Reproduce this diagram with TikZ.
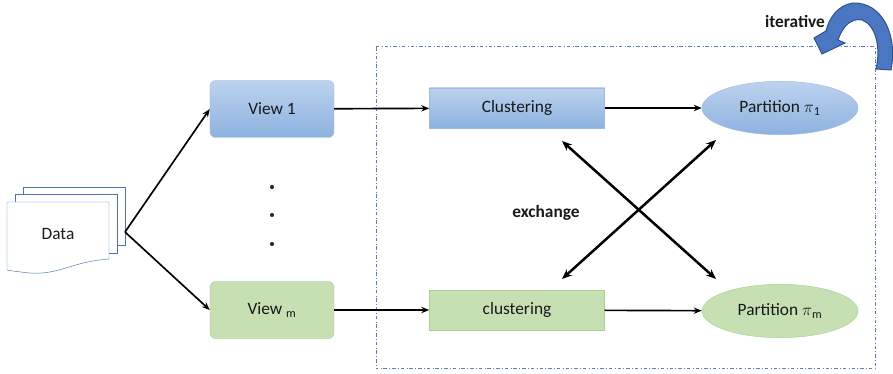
\documentclass[tikz,border=0pt]{standalone}
\usepackage{fontspec}
\setmainfont{Carlito}
\usetikzlibrary{shapes.geometric,arrows.meta}
\definecolor{bluetop}{HTML}{BCD2EE}
\definecolor{bluebot}{HTML}{8DB2E0}
\definecolor{blueline}{HTML}{9DB9E3}
\definecolor{greenfill}{HTML}{C6E0B4}
\definecolor{greenline}{HTML}{A9D18E}
\definecolor{docline}{HTML}{4A74C0}
\definecolor{frameline}{HTML}{5A7DB5}
\definecolor{loopfill}{HTML}{4A76C2}
\definecolor{loopline}{HTML}{2F528F}
\tikzset{
	txt/.style={font=\fontsize{14.8}{17}\selectfont, text=black!90},
	viewbox/.style={txt, rounded corners=5pt, minimum width=3.72cm, minimum height=1.71cm, inner sep=0pt},
	clusterbox/.style={txt, minimum width=5.25cm, minimum height=1.2cm, inner sep=0pt},
	partition/.style={txt, ellipse, minimum width=4.68cm, minimum height=1.6cm, inner sep=0pt},
	bluefill/.style={draw=blueline, top color=bluetop, bottom color=bluebot},
	greenbox/.style={draw=greenline, fill=greenfill},
	flow/.style={-{Stealth[length=2.4mm, width=1.9mm]}, line width=0.5mm},
	swap/.style={{Stealth[length=3mm, width=2.4mm]}-{Stealth[length=3mm, width=2.4mm]}, line width=0.75mm}
}

\begin{document}
\begin{tikzpicture}[x=0.03cm, y=-0.03cm]
    \useasboundingbox (0,0) rectangle (893,374);
    % stack of documents
    \filldraw[draw=docline, fill=white] (23,187) rectangle (125,245);
    \filldraw[draw=docline, fill=white] (15,194) rectangle (117,253);
    \filldraw[draw=docline, fill=white] (7,202) -- (109,202) -- (109,259)
        .. controls (70,262) and (60,275) .. (30,273) .. controls (20,272) and (12,271) .. (7,270) -- cycle;
    \node[txt] (data) at (58,234) {Data};
    \coordinate (dataout) at (125,232);

    % views
    \node[viewbox, bluefill] (view1) at (272,109) {View 1};
    \node[viewbox, greenbox] (viewm) at (272,310) {View \textsubscript{m}};
    \foreach \y [count=\i] in {187,215,244}
        \node[circle, fill=black!85, inner sep=0pt, minimum size=3.5pt] (dot\i) at (272,\y) {};

    % frame of the iterative part
    \draw[frameline, dash dot, line width=0.3mm] (376,47) rectangle (875,369);

    % clustering and partitions
    \node[clusterbox, bluefill] (clust1) at (517,108) {Clustering};
    \node[clusterbox, greenbox] (clustm) at (517,310) {clustering};
    \node[partition, bluefill] (part1) at (780,108) {Partition $\pi$\textsubscript{1}};
    \node[partition, greenbox] (partm) at (780,311) {Partition $\pi$\textsubscript{m}};

    \draw[flow] (dataout) -- (view1.west);
    \draw[flow] (dataout) -- (viewm.west);
    \draw[flow] (view1) -- (clust1);
    \draw[flow] (viewm) -- (clustm);
    \draw[flow] (clust1) -- (part1);
    \draw[flow] (clustm) -- (partm);

    % exchange between the two views
    \coordinate (xa) at (562,141);
    \coordinate (xb) at (716,279);
    \coordinate (xc) at (716,140);
    \coordinate (xd) at (562,279);
    \draw[swap] (xa) -- (xb);
    \draw[swap] (xc) -- (xd);
    \node[txt, font=\fontsize{14.8}{17}\selectfont\bfseries] (exch) at (546,213) {exchange};

    % loop arrow
    \filldraw[fill=loopfill, draw=loopline, line width=0.3mm]
        (891,70) .. controls (898,35) and (882,2) .. (853,3)
        .. controls (838,5) and (829,18) .. (826,31)
        -- (814,38) -- (822,54) -- (845,43) -- (838,40)
        .. controls (843,25) and (852,18) .. (862,20)
        .. controls (876,25) and (881,48) .. (876,69) -- cycle;
    \node[txt, font=\fontsize{14.8}{17}\selectfont\bfseries] (iter) at (795,21) {iterative};
\end{tikzpicture}
\end{document}
